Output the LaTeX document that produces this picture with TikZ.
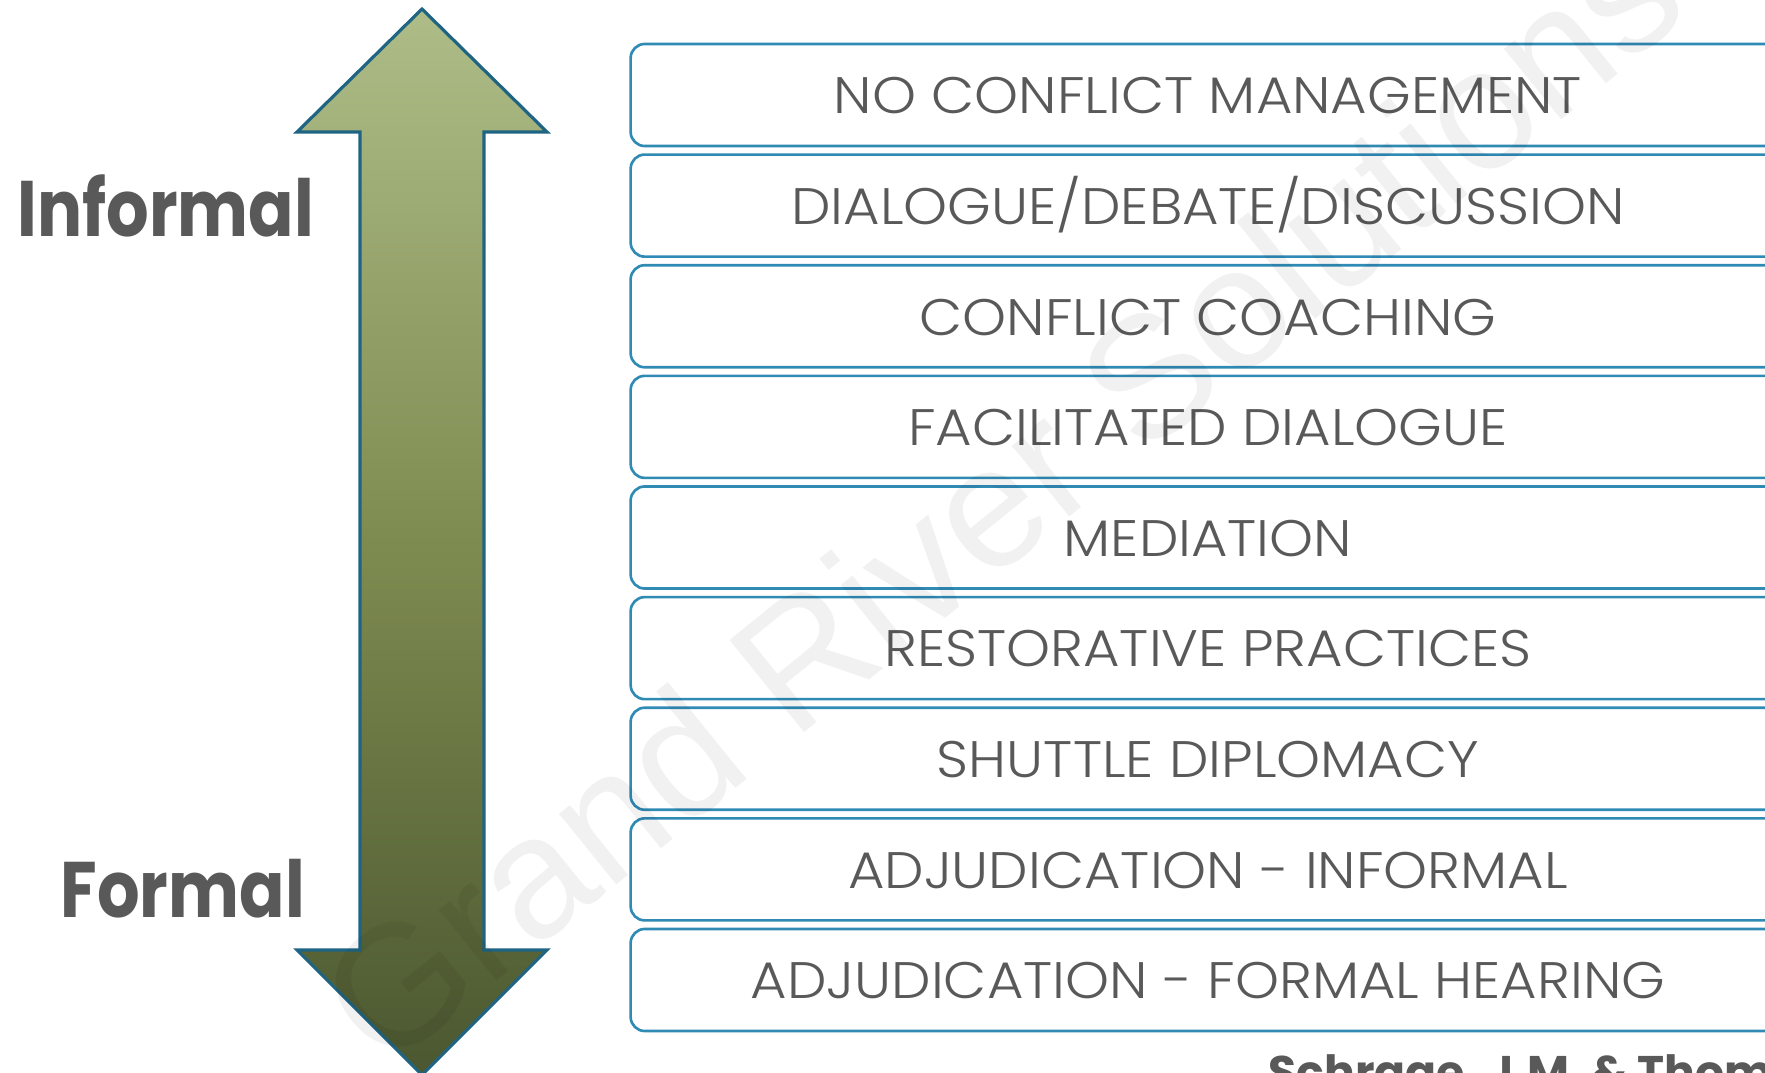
\documentclass[tikz,border=0pt]{standalone}
\usepackage{fontspec}
\setmainfont{Poppins}
\newfontfamily\boxfont{Poppins Light}
\newfontfamily\wmfont{Liberation Sans}
\definecolor{txt}{HTML}{595959}
\definecolor{boxc}{HTML}{2F8AB4}
\definecolor{arrline}{HTML}{1F6482}
\definecolor{gtop}{HTML}{AEBD88}
\definecolor{gmid}{HTML}{7E8B50}
\definecolor{gbot}{HTML}{4B5730}
\tikzset{
  item/.style={draw=boxc, line width=0.75pt, rounded corners=4pt, fill=white,
    minimum width=11.54cm, minimum height=1.02cm, inner sep=0pt,
    text height=10.7pt, text depth=0pt, text=txt,
    font=\boxfont\fontsize{14.6}{17}\selectfont},
  side/.style={anchor=base west, inner sep=0pt, text=txt,
    font=\bfseries\fontsize{22.4}{26}\selectfont},
}
\begin{document}
\begin{tikzpicture}[x=0.01cm,y=-0.01cm]
\useasboundingbox (0,0) rectangle (1765,1073);
\begin{scope}
\clip (0,0) rectangle (1765,1073);
% double arrow
\path[draw=arrline, line width=0.9pt, top color=gtop, bottom color=gbot, middle color=gmid]
  (422,9) -- (547,132) -- (484,132) -- (484,950) -- (547,950) -- (422,1075)
  -- (297,950) -- (360,950) -- (360,132) -- (297,132) -- cycle;
\node[side] (inf) at (17,237) {\scalebox{0.85}[1]{Informal}};
\node[side] (for) at (60,917) {\scalebox{0.85}[1]{Formal}};
% boxes
\foreach \t [count=\i from 0] in {NO CONFLICT MANAGEMENT,DIALOGUE/DEBATE/DISCUSSION,CONFLICT COACHING,FACILITATED DIALOGUE,MEDIATION,RESTORATIVE PRACTICES,SHUTTLE DIPLOMACY,ADJUDICATION - INFORMAL,ADJUDICATION - FORMAL HEARING}
  \node[item] (b\i) at (1208,{95+110.625*\i}) {\scalebox{1.09}[1]{\t}};
\node[anchor=base west, inner sep=0pt, text=txt, font=\bfseries\fontsize{13}{15}\selectfont] (cite) at (1268,1088) {Schrage, J.M. \& Thompson};
% watermark
\node[rotate=39, opacity=0.055, text=black, font=\wmfont\fontsize{49}{53}\selectfont, inner sep=0pt] (wm) at (1000,495) {Grand River Solutions};
\end{scope}
\end{tikzpicture}
\end{document}
